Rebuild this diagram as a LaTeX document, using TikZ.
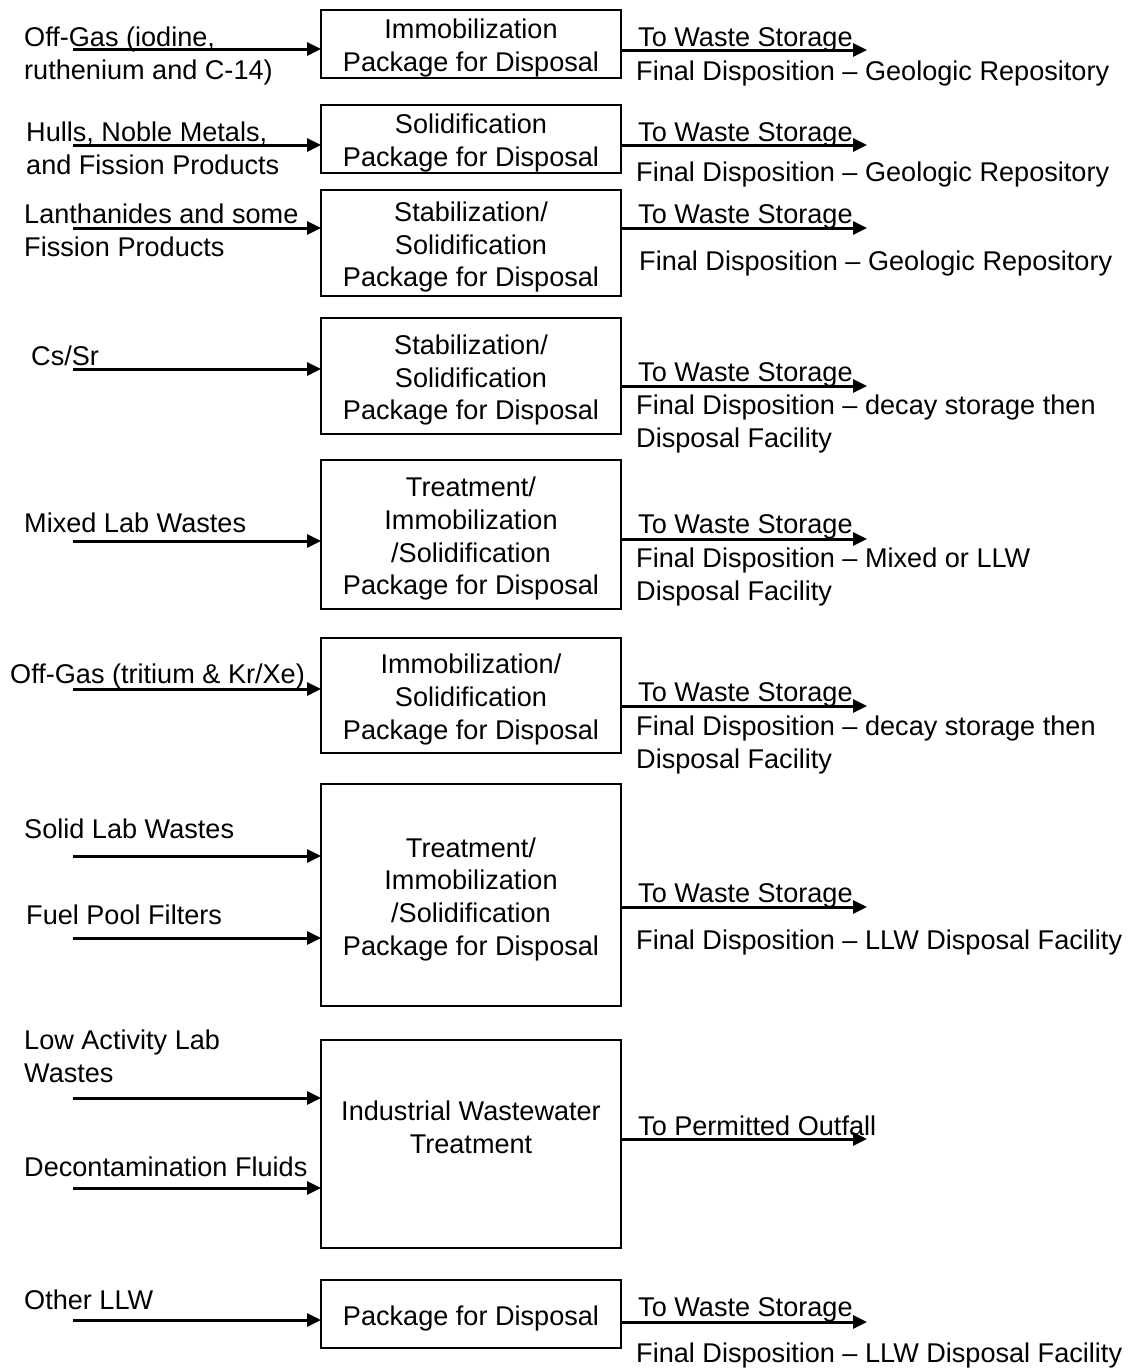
\documentclass[tikz,border=0pt]{standalone}
\usepackage{fontspec}
\setmainfont{Liberation Sans}
\usetikzlibrary{arrows.meta}
\tikzset{
    flow/.style={line width=3pt,-{Triangle[length=14pt,width=13pt]}},
    wastebox/.style={draw,line width=1.5pt,minimum width=300pt,inner sep=0pt,outer sep=0pt,align=center,anchor=north west},
    lbl/.style={anchor=base west,align=left,inner sep=0pt},
}
\newcommand\TopStrut{\rule{0pt}{28pt}}
\newcommand\InFlow[3]{%
    \coordinate (#1) at (73,#2);
    \draw[flow] (#1) -- (#1 -| #3.west);
}
\newcommand\OutFlow[3]{%
    \coordinate (#1) at (867,#2);
    \draw[flow] (#1 -| #3.east) -- (#1);
}

\begin{document}
\begin{tikzpicture}[x=1pt,y=-1pt,font=\fontsize{27.1}{32.7}\selectfont]
    \useasboundingbox (0,0) rectangle (1132,1368);
    \fill[white] (0,0) rectangle (1132,1368);

    \node[wastebox,minimum height=68pt] (b1) at (321,10) {\TopStrut Immobilization\\Package for Disposal};
    \node[wastebox,minimum height=68pt] (b2) at (321,105) {\TopStrut Solidification\\Package for Disposal};
    \node[wastebox,minimum height=106pt] (b3) at (321,190) {\TopStrut Stabilization/\\Solidification\\Package for Disposal};
    \node[wastebox,minimum height=116pt] (b4) at (321,318) {\TopStrut Stabilization/\\Solidification\\Package for Disposal};
    \node[wastebox,minimum height=149pt] (b5) at (321,460) {\TopStrut Treatment/\\Immobilization\\/Solidification\\Package for Disposal};
    \node[wastebox,minimum height=115pt] (b6) at (321,638) {\TopStrut Immobilization/\\Solidification\\Package for Disposal};
    \node[wastebox,minimum height=222pt] (b7) at (321,784) {\TopStrut Treatment/\\Immobilization\\/Solidification\\Package for Disposal};
    \node[wastebox,minimum height=208pt] (b8) at (321,1040) {};
    \node[align=center,inner sep=0pt] (b8text) at ([yshift=17pt]b8.center) {Industrial Wastewater\\Treatment};
    \node[wastebox,minimum height=68pt] (b9) at (321,1280) {\TopStrut Package for Disposal};

    \InFlow{in1}{49}{b1}
    \InFlow{in2}{145}{b2}
    \InFlow{in3}{228}{b3}
    \InFlow{in4}{369}{b4}
    \InFlow{in5}{541}{b5}
    \InFlow{in6}{689}{b6}
    \InFlow{in7a}{856}{b7}
    \InFlow{in7b}{938}{b7}
    \InFlow{in8a}{1098}{b8}
    \InFlow{in8b}{1188}{b8}
    \InFlow{in9}{1320}{b9}

    \node[lbl] (offGasA) at (24,79) {Off-Gas (iodine,\\ruthenium and C-14)};
    \node[lbl] (hulls) at (26,174) {Hulls, Noble Metals,\\and Fission Products};
    \node[lbl] (lanth) at (24,256) {Lanthanides and some\\Fission Products};
    \node[lbl] (csSr) at (31,365) {Cs/Sr};
    \node[lbl] (mixedLab) at (24,532) {Mixed Lab Wastes};
    \node[lbl] (offGasB) at (10,683) {Off-Gas (tritium \& Kr/Xe)};
    \node[lbl] (solidLab) at (24,838) {Solid Lab Wastes};
    \node[lbl] (fuelPool) at (26,924) {Fuel Pool Filters};
    \node[lbl] (lowAct) at (24,1082) {Low Activity Lab\\Wastes};
    \node[lbl] (decon) at (24,1176) {Decontamination Fluids};
    \node[lbl] (otherLLW) at (24,1309) {Other LLW};

    \OutFlow{out1}{50}{b1}
    \OutFlow{out2}{145}{b2}
    \OutFlow{out3}{228}{b3}
    \OutFlow{out4}{386}{b4}
    \OutFlow{out5}{539}{b5}
    \OutFlow{out6}{706}{b6}
    \OutFlow{out7}{907}{b7}
    \OutFlow{out8}{1139}{b8}
    \OutFlow{out9}{1322}{b9}

    \node[lbl] (store1) at (638,46) {To Waste Storage};
    \node[lbl] (final1) at (636,80) {Final Disposition -- Geologic Repository};
    \node[lbl] (store2) at (638,141) {To Waste Storage};
    \node[lbl] (final2) at (636,181) {Final Disposition -- Geologic Repository};
    \node[lbl] (store3) at (638,223) {To Waste Storage};
    \node[lbl] (final3) at (639,270) {Final Disposition -- Geologic Repository};
    \node[lbl] (store4) at (638,381) {To Waste Storage};
    \node[lbl] (final4) at (636,447) {Final Disposition -- decay storage then\\Disposal Facility};
    \node[lbl] (store5) at (638,533) {To Waste Storage};
    \node[lbl] (final5) at (636,600) {Final Disposition -- Mixed or LLW\\Disposal Facility};
    \node[lbl] (store6) at (638,701) {To Waste Storage};
    \node[lbl] (final6) at (636,768) {Final Disposition -- decay storage then\\Disposal Facility};
    \node[lbl] (store7) at (638,902) {To Waste Storage};
    \node[lbl] (final7) at (636,949) {Final Disposition -- LLW Disposal Facility};
    \node[lbl] (outfall) at (638,1135) {To Permitted Outfall};
    \node[lbl] (store9) at (638,1316) {To Waste Storage};
    \node[lbl] (final9) at (636,1362) {Final Disposition -- LLW Disposal Facility};
\end{tikzpicture}
\end{document}
